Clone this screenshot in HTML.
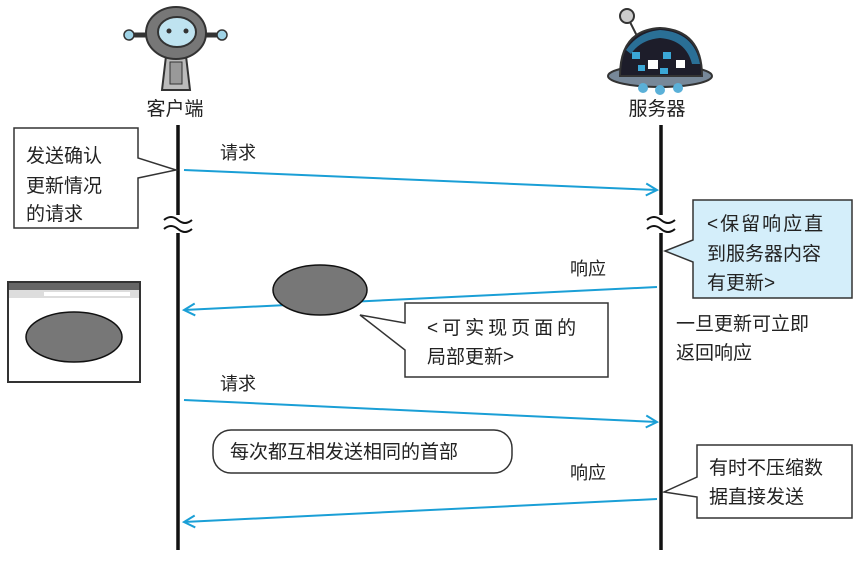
<!DOCTYPE html>
<html><head><meta charset="utf-8"><style>
html,body{margin:0;padding:0;background:#fff;}
svg text{font-family:"Liberation Sans","Noto Sans CJK SC",sans-serif;fill:#222;}
</style></head><body>
<svg width="864" height="556" viewBox="0 0 864 556" xmlns="http://www.w3.org/2000/svg">
<defs>
<marker id="ah" markerWidth="14" markerHeight="14" refX="12" refY="7" orient="auto" markerUnits="userSpaceOnUse">
<path d="M1,1 L12,7 L1,13" fill="none" stroke="#1a9fd6" stroke-width="2"/>
</marker>
</defs>
<!-- client robot -->
<g>
<line x1="130" y1="35" x2="222" y2="35" stroke="#333" stroke-width="5"/>
<circle cx="129" cy="35" r="5" fill="#9fd3e6" stroke="#333" stroke-width="1.5"/>
<circle cx="222" cy="35" r="5" fill="#9fd3e6" stroke="#333" stroke-width="1.5"/>
<path d="M166,56 L186,56 L190,90 L162,90 Z" fill="#bbb" stroke="#333" stroke-width="2"/>
<rect x="170" y="62" width="12" height="22" fill="#999" stroke="#333" stroke-width="1"/>
<ellipse cx="176" cy="33" rx="30" ry="26" fill="#777" stroke="#333" stroke-width="2"/>
<ellipse cx="177" cy="32" rx="19" ry="15" fill="#bfe3f0" stroke="#333" stroke-width="2"/>
<circle cx="169" cy="31" r="2.5" fill="#333"/><circle cx="186" cy="31" r="2.5" fill="#333"/>
</g>
<text x="175" y="115" font-size="19" text-anchor="middle">客户端</text>
<!-- server robot -->
<g>
<line x1="630" y1="22" x2="640" y2="42" stroke="#333" stroke-width="2"/>
<circle cx="627" cy="16" r="7" fill="#ccc" stroke="#333" stroke-width="2"/>
<ellipse cx="660" cy="76" rx="52" ry="11" fill="#778899" stroke="#333" stroke-width="2"/>
<path d="M620,76 Q620,30 660,28 Q702,30 702,76 Z" fill="#1d1d2a" stroke="#333" stroke-width="2"/>
<path d="M626,50 Q638,32 660,30 Q694,32 700,64 L692,64 Q686,40 660,38 Q640,40 631,54Z" fill="#2a6f96"/>
<rect x="632" y="52" width="8" height="7" fill="#3ba7d6"/><rect x="648" y="60" width="10" height="9" fill="#fff"/><rect x="663" y="52" width="8" height="7" fill="#3ba7d6"/><rect x="676" y="60" width="9" height="8" fill="#fff"/><rect x="638" y="65" width="7" height="6" fill="#3ba7d6"/><rect x="660" y="68" width="8" height="6" fill="#3ba7d6"/>
<circle cx="643" cy="88" r="5" fill="#5ab0d8"/><circle cx="660" cy="90" r="5" fill="#5ab0d8"/><circle cx="678" cy="88" r="5" fill="#5ab0d8"/>
</g>
<text x="657" y="115" font-size="19" text-anchor="middle">服务器</text>
<!-- lifelines -->
<line x1="178" y1="125" x2="178" y2="550" stroke="#111" stroke-width="3.5"/>
<line x1="661" y1="125" x2="661" y2="550" stroke="#111" stroke-width="3.5"/>
<g fill="none" stroke="#111" stroke-width="2">
<rect x="162" y="215" width="34" height="18" fill="#fff" stroke="none"/>
<path d="M164,220 q7,-6 14,0 t14,0"/><path d="M164,229 q7,-6 14,0 t14,0"/>
<rect x="645" y="215" width="34" height="18" fill="#fff" stroke="none"/>
<path d="M647,220 q7,-6 14,0 t14,0"/><path d="M647,229 q7,-6 14,0 t14,0"/>
</g>
<!-- arrows -->
<g stroke="#1a9fd6" stroke-width="2" fill="none" marker-end="url(#ah)">
<line x1="184" y1="170" x2="657" y2="190"/>
<line x1="657" y1="287" x2="184" y2="310"/>
<line x1="184" y1="400" x2="657" y2="422"/>
<line x1="657" y1="499" x2="184" y2="522"/>
</g>
<text x="220" y="159" font-size="18">请求</text>
<text x="570" y="275" font-size="18">响应</text>
<text x="220" y="390" font-size="18">请求</text>
<text x="570" y="479" font-size="18">响应</text>
<!-- left box -->
<path d="M14,128 L138,128 L138,158 L176,170 L138,178 L138,228 L14,228 Z" fill="#fff" stroke="#333" stroke-width="1.5"/>
<text font-size="19" x="26" y="162">发送确认</text>
<text font-size="19" x="26" y="192">更新情况</text>
<text font-size="19" x="26" y="220">的请求</text>
<!-- server blue box -->
<path d="M693,200 L852,200 L852,298 L693,298 L693,262 L665,251 L693,240 Z" fill="#d4eefa" stroke="#333" stroke-width="1.5"/>
<text font-size="19" x="707" y="230" letter-spacing="2">&lt;保留响应直</text>
<text font-size="19" x="707" y="260">到服务器内容</text>
<text font-size="19" x="707" y="289">有更新&gt;</text>
<text font-size="19" x="676" y="330">一旦更新可立即</text>
<text font-size="19" x="676" y="359">返回响应</text>
<!-- browser -->
<rect x="8" y="282" width="132" height="100" fill="#fff" stroke="#333" stroke-width="2"/>
<rect x="9" y="283" width="130" height="7" fill="#666"/>
<rect x="9" y="290" width="130" height="8" fill="#ddd"/>
<rect x="44" y="292" width="86" height="4" fill="#fff"/>
<ellipse cx="74" cy="337" rx="48" ry="25" fill="#777" stroke="#111" stroke-width="1.5"/>
<!-- ellipse -->
<ellipse cx="320" cy="290" rx="47" ry="25" fill="#777" stroke="#111" stroke-width="1.5"/>
<path d="M405,303 L608,303 L608,377 L405,377 L405,350 L360,315 L405,323 Z" fill="#fff" stroke="#333" stroke-width="1.5"/>
<text font-size="19" x="427" y="334" letter-spacing="4">&lt;可实现页面的</text>
<text font-size="19" x="427" y="363">局部更新&gt;</text>
<!-- rounded -->
<rect x="213" y="430" width="299" height="43" rx="18" fill="#fff" stroke="#333" stroke-width="1.5"/>
<text font-size="19" x="230" y="458">每次都互相发送相同的首部</text>
<!-- bottom right -->
<path d="M697,445 L852,445 L852,518 L697,518 L697,497 L664,492 L697,477 Z" fill="#fff" stroke="#333" stroke-width="1.5"/>
<text font-size="19" x="709" y="474">有时不压缩数</text>
<text font-size="19" x="709" y="503">据直接发送</text>
</svg>
</body></html>
